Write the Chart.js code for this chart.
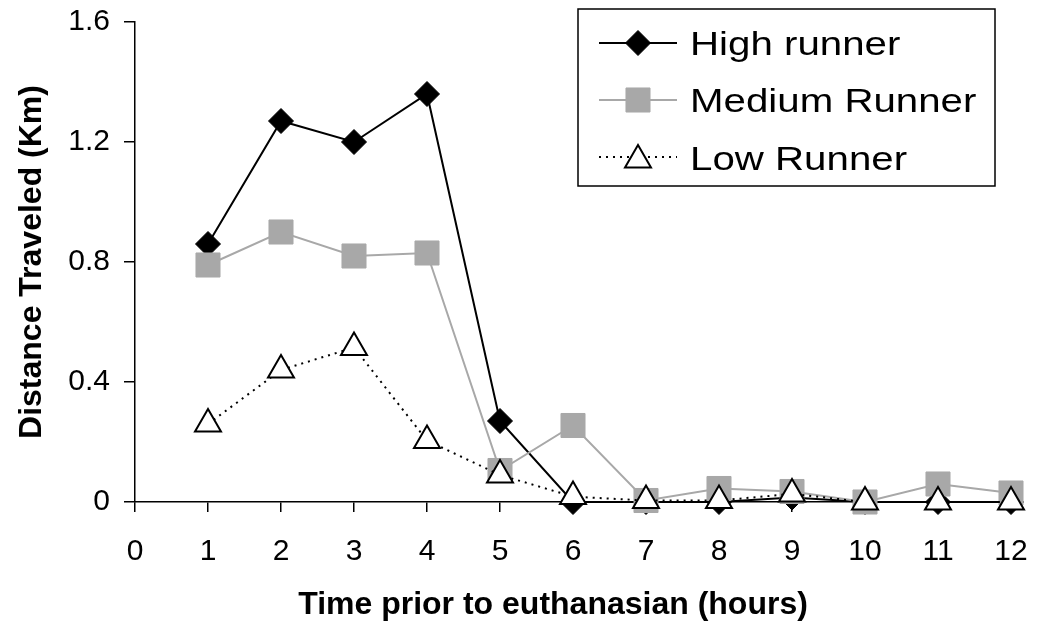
<!DOCTYPE html>
<html>
<head>
<meta charset="utf-8">
<script src="https://cdn.jsdelivr.net/npm/chart.js@4.4.1/dist/chart.umd.min.js"></script>
<style>
  html, body { margin:0; padding:0; background:#fff; }
  #wrap { width:1039px; height:629px; position:relative; }
</style>
</head>
<body>
<div id="wrap"><canvas id="chart" width="1039" height="629"></canvas></div>
<script>
// data
const hours = [1, 2, 3, 4, 5, 6, 7, 8, 9, 10, 11, 12];
const highRunner   = [0.86, 1.27, 1.20, 1.36, 0.27, 0, 0, 0, 0.015, 0, 0, 0];
const mediumRunner = [0.79, 0.90, 0.82, 0.83, 0.105, 0.255, 0.005, 0.045, 0.035, 0, 0.06, 0.03];
const lowRunner    = [0.26, 0.44, 0.515, 0.205, 0.09, 0.018, 0.005, 0.005, 0.027, 0, 0, 0];
const seriesNames  = ["High runner", "Medium Runner", "Low Runner"];
const xTicks = [0, 1, 2, 3, 4, 5, 6, 7, 8, 9, 10, 11, 12];
const yTicks = [0, 0.4, 0.8, 1.2, 1.6];
const xTitle = "Time prior to euthanasian (hours)";
const yTitle = "Distance Traveled (Km)";

const FONT = "'Liberation Sans', Arial, sans-serif";
const GREY = "#a8a8a8";

const pts = arr => hours.map((h,i)=> ({x:h, y:arr[i]}));

// keep label overflow from pushing the plot area around
function noOverflow(ax){
  ax.paddingTop = 0; ax.paddingBottom = 0;
  ax.paddingLeft = 0; ax.paddingRight = 0;
}

// axis titles + boxed legend, drawn after the chart
const extras = {
  id: "extras",
  afterDraw(chart){
    const ctx = chart.ctx;
    const area = chart.chartArea;

    // titles
    ctx.save();
    ctx.fillStyle = "#000";
    ctx.font = "bold 32px " + FONT;
    ctx.textAlign = "center";
    ctx.textBaseline = "middle";
    ctx.fillText(xTitle, 553, 605);
    ctx.translate(32, (area.top + area.bottom)/2);
    ctx.rotate(-Math.PI/2);
    ctx.fillText(yTitle, 0, 0);
    ctx.restore();

    // legend box
    const box = {x:578, y:9, w:417, h:177};
    ctx.save();
    ctx.fillStyle = "#fff";
    ctx.fillRect(box.x, box.y, box.w, box.h);
    ctx.strokeStyle = "#000";
    ctx.lineWidth = 1.5;
    ctx.strokeRect(box.x, box.y, box.w, box.h);
    ctx.restore();

    const rows = [43, 100, 157];
    const baselines = [55, 112, 170];
    chart.data.datasets.forEach((ds, i)=>{
      const y = rows[i];
      ctx.save();
      ctx.strokeStyle = ds.borderColor;
      ctx.lineWidth = ds.borderWidth;
      ctx.setLineDash(ds.borderDash || []);
      ctx.beginPath();
      ctx.moveTo(599, y);
      ctx.lineTo(677, y);
      ctx.stroke();
      ctx.restore();

      ctx.save();
      ctx.fillStyle = ds.pointBackgroundColor;
      ctx.strokeStyle = ds.pointBorderColor;
      ctx.lineWidth = ds.pointBorderWidth;
      Chart.helpers.drawPoint(ctx, {
        pointStyle: ds.pointStyle,
        radius: ds.pointRadius,
        borderWidth: ds.pointBorderWidth,
        rotation: 0
      }, 638, y + (ds.pointStyle === "triangle" ? 3 : 0));
      ctx.restore();

      // legend text in the reference is set wide, so stretch it a bit
      ctx.save();
      ctx.fillStyle = "#000";
      ctx.font = "33px " + FONT;
      ctx.textBaseline = "alphabetic";
      ctx.translate(690, baselines[i]);
      ctx.scale(1.22, 1);
      ctx.fillText(seriesNames[i], 0, 0);
      ctx.restore();
    });
  }
};

new Chart(document.getElementById("chart"), {
  type: "line",
  data: {
    datasets: [
      {
        label: seriesNames[0], data: pts(highRunner), order: 2,
        borderColor: "#000", borderWidth: 2,
        pointStyle: "rectRot", pointRadius: 12.5,
        pointBackgroundColor: "#000", pointBorderColor: "#000", pointBorderWidth: 1
      },
      {
        label: seriesNames[1], data: pts(mediumRunner), order: 1,
        borderColor: GREY, borderWidth: 2,
        pointStyle: "rect", pointRadius: 17,
        pointBackgroundColor: GREY, pointBorderColor: GREY, pointBorderWidth: 1
      },
      {
        label: seriesNames[2], data: pts(lowRunner), order: 0,
        borderColor: "#000", borderWidth: 2, borderDash: [2, 5],
        pointStyle: "triangle", pointRadius: 15,
        pointBackgroundColor: "#fff", pointBorderColor: "#000", pointBorderWidth: 2
      }
    ]
  },
  options: {
    responsive: false,
    animation: false,
    clip: false,
    layout: { padding: { top: 22, right: 28, left: 0, bottom: 0 } },
    plugins: { legend: { display: false }, tooltip: { enabled: false } },
    scales: {
      x: {
        type: "linear", min: 0, max: 12,
        afterBuildTicks: ax => { ax.ticks = xTicks.map(v=>({value:v})); },
        afterFit: ax => { ax.height = 127; noOverflow(ax); },
        grid: { drawOnChartArea: false, tickLength: 10, color: "#000", lineWidth: 1.5 },
        border: { color: "#000", width: 1.5 },
        ticks: { color: "#000", font: { family: FONT, size: 30 }, padding: 22, maxRotation: 0 },
        title: { display: false }
      },
      y: {
        min: 0, max: 1.6,
        afterBuildTicks: ax => { ax.ticks = yTicks.map(v=>({value:v})); },
        afterFit: ax => { ax.width = 135; noOverflow(ax); },
        grid: { drawOnChartArea: false, tickLength: 11, color: "#000", lineWidth: 1.5 },
        border: { color: "#000", width: 1.5 },
        ticks: { color: "#000", font: { family: FONT, size: 30 }, padding: 14,
                 callback: v => v === 0 ? "0" : v.toFixed(1) },
        title: { display: false }
      }
    }
  },
  plugins: [extras]
});
</script>
</body>
</html>
